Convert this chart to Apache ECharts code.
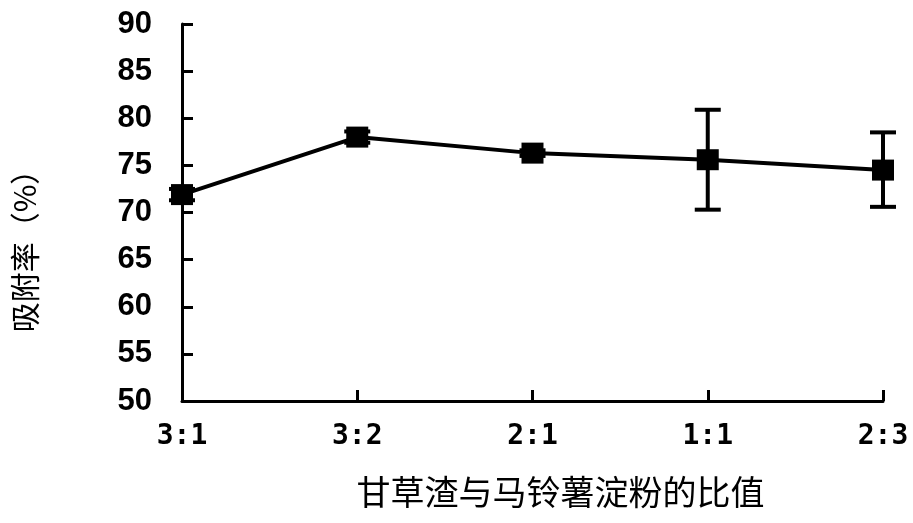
<!DOCTYPE html>
<html><head><meta charset="utf-8">
<script src="https://cdn.jsdelivr.net/npm/echarts@6/dist/echarts.min.js"></script>
<style>html,body{margin:0;padding:0;background:#fff}#c{width:913px;height:523px}</style>
</head><body><div id="c"></div>
<script>
const categories = ['3:1', '3:2', '2:1', '1:1', '2:3'];
const values = [71.9, 78.0, 76.3, 75.6, 74.5];
const errLow = [71.3, 77.4, 76.0, 70.3, 70.6];
const errHigh = [72.5, 78.6, 76.6, 80.9, 78.5];
const yTicks = [50, 90, 5];

const chart = echarts.init(document.getElementById('c'));
const errData = categories.map((c, i) => [i, errLow[i], errHigh[i]]);
const font = 'Liberation Sans, Arial, sans-serif';
chart.setOption({
  animation: false,
  backgroundColor: '#fff',
  grid: { left: 182, right: 30, top: 24, bottom: 122 },
  xAxis: {
    type: 'category', data: categories, boundaryGap: false,
    axisLine: { lineStyle: { color: '#000', width: 3 } },
    axisTick: { show: true, inside: true, length: 11, lineStyle: { color: '#000', width: 3 }, alignWithLabel: true },
    axisLabel: { color: '#000', fontSize: 28, fontWeight: 'bold', fontFamily: 'DejaVu Sans Mono, monospace', margin: 22 },
    name: '甘草渣与马铃薯淀粉的比值', nameLocation: 'middle', nameGap: 74,
    nameTextStyle: { color: '#000', fontSize: 34, fontFamily: 'Noto Sans CJK SC', padding: [0, 0, 0, 56] },
    splitLine: { show: false }
  },
  yAxis: {
    type: 'value', min: yTicks[0], max: yTicks[1], interval: yTicks[2],
    axisLine: { show: true, lineStyle: { color: '#000', width: 3 } },
    axisTick: { show: true, inside: true, length: 11, lineStyle: { color: '#000', width: 3 } },
    axisLabel: { color: '#000', fontSize: 31, fontWeight: 'bold', fontFamily: font, margin: 30 },
    splitLine: { show: false },
    name: '吸附率（%）', nameLocation: 'middle', nameGap: 142, nameRotate: 90,
    nameTextStyle: { color: '#000', fontSize: 30, fontFamily: 'Noto Sans CJK SC', padding: [0, 62, 0, 0] }
  },
  series: [
    {
      type: 'line', data: values, symbol: 'rect', symbolSize: [22, 21],
      itemStyle: { color: '#000' }, lineStyle: { color: '#000', width: 4 }, z: 3
    },
    {
      type: 'custom', data: errData, z: 4,
      renderItem: function (params, api) {
        const x = api.value(0);
        const lo = api.coord([x, api.value(1)]);
        const hi = api.coord([x, api.value(2)]);
        const w = 13;
        const st = { stroke: '#000', lineWidth: 4 };
        return { type: 'group', children: [
          { type: 'line', shape: { x1: lo[0], y1: lo[1], x2: hi[0], y2: hi[1] }, style: st },
          { type: 'line', shape: { x1: lo[0] - w, y1: lo[1], x2: lo[0] + w, y2: lo[1] }, style: st },
          { type: 'line', shape: { x1: hi[0] - w, y1: hi[1], x2: hi[0] + w, y2: hi[1] }, style: st }
        ]};
      }
    }
  ]
});
</script></body></html>
